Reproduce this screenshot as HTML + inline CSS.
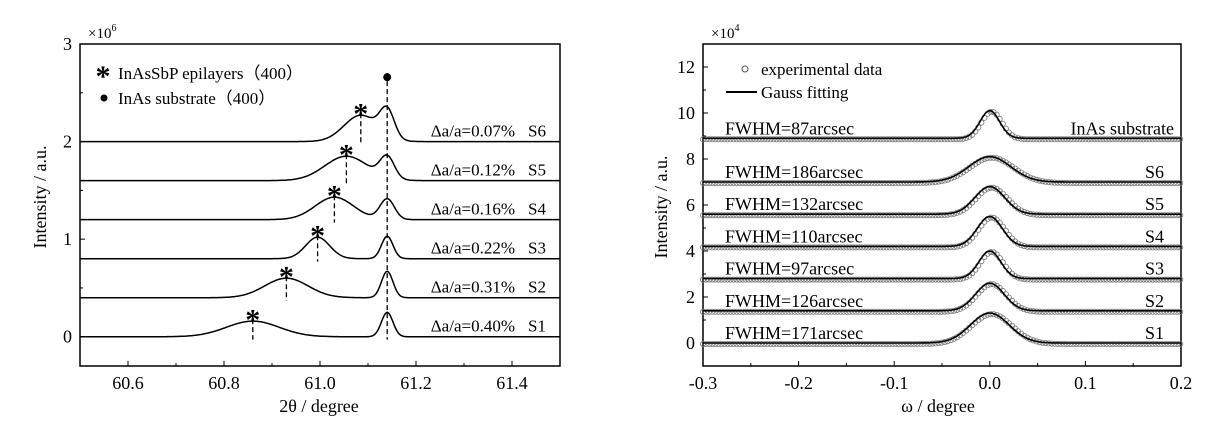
<!DOCTYPE html>
<html><head><meta charset="utf-8"><style>
body{margin:0;background:#fff}
svg text{font-family:"Liberation Serif",serif;fill:#000}
</style></head><body>
<svg id="svg" width="1213" height="427" xmlns="http://www.w3.org/2000/svg">
<g id="left"></g>
<g id="right"></g>
</svg>
<script>
// ---- Left chart data ----
const leftSamples = ["S1","S2","S3","S4","S5","S6"];
const leftMismatch = ["Δa/a=0.40%","Δa/a=0.31%","Δa/a=0.22%","Δa/a=0.16%","Δa/a=0.12%","Δa/a=0.07%"];
const leftBaseline = [0,0.4,0.8,1.2,1.6,2.0];
const epiPos = [60.86,60.93,60.995,61.03,61.055,61.085];
const epiHeight = [0.16,0.2,0.22,0.23,0.25,0.27];
const epiSigma = [0.055,0.045,0.025,0.04,0.045,0.035];
const subPos = 61.14;
const subHeight = [0.25,0.27,0.23,0.21,0.22,0.28];
const subSigma = [0.012,0.012,0.012,0.015,0.015,0.015];
const leftXTicks = [60.6,60.8,61.0,61.2,61.4];
const leftXTickLabels = ["60.6","60.8","61.0","61.2","61.4"];
const leftYTicks = [0,1,2,3];

// ---- Right chart data ----
const rightSamples = ["S1","S2","S3","S4","S5","S6","InAs substrate"];
const fwhmLabels = ["FWHM=171arcsec","FWHM=126arcsec","FWHM=97arcsec","FWHM=110arcsec","FWHM=132arcsec","FWHM=186arcsec","FWHM=87arcsec"];
const fwhmArcsec = [171,126,97,110,132,186,87];
const rightBaseline = [0,1.4,2.8,4.2,5.6,7.0,8.9];
const rightPeak = [1.3,1.2,1.2,1.3,1.2,1.1,1.2];
const rightXTicks = [-0.3,-0.2,-0.1,0.0,0.1,0.2];
const rightXTickLabels = ["-0.3","-0.2","-0.1","0.0","0.1","0.2"];
const rightYTicks = [0,2,4,6,8,10,12];

const NS="http://www.w3.org/2000/svg";
function mk(parent,tag,attrs,text){const e=document.createElementNS(NS,tag);for(const k in attrs)e.setAttribute(k,attrs[k]);if(text!==undefined)e.textContent=text;parent.appendChild(e);return e;}
const gauss=(x,c,h,s)=>h*Math.exp(-0.5*((x-c)/s)**2);

// ===== LEFT =====
(function(){
const g=document.getElementById('left');
const L=80,R=560,T=44,B=366;
const x0=60.5,x1=61.5,y0=-0.3,y1=3;
const X=v=>L+(v-x0)/(x1-x0)*(R-L);
const Y=v=>B-(v-y0)/(y1-y0)*(B-T);
const frame=mk(g,'rect',{x:L,y:T,width:R-L,height:B-T,fill:'none',stroke:'#000','stroke-width':1.5});

for(let v=60.5;v<=61.5001;v+=0.1){const maj=leftXTicks.some(t=>Math.abs(t-v)<1e-6);
 const t=mk(g,'line',{x1:X(v),x2:X(v),y1:B,y2:B-(maj?5:3),stroke:'#000','stroke-width':1});
 }
leftXTicks.forEach((v,i)=>{const t=mk(g,'text',{x:X(v),y:B+23,'text-anchor':'middle','font-size':18},leftXTickLabels[i]);
 });
for(let v=0;v<=3.0001;v+=0.5){const maj=Math.abs(v-Math.round(v))<1e-6;
 const t=mk(g,'line',{x1:L,x2:L+(maj?5:3),y1:Y(v),y2:Y(v),stroke:'#000','stroke-width':1});
 }
leftYTicks.forEach(v=>{const t=mk(g,'text',{x:L-8,y:Y(v)+6,'text-anchor':'end','font-size':18},String(v));
 });
let t=mk(g,'text',{x:88,y:38,'font-size':15},'×10');mk(t,'tspan',{dy:-7,'font-size':10},'6');

t=mk(g,'text',{x:46,y:197,'text-anchor':'middle','font-size':18,transform:'rotate(-90 46 197)'},'Intensity / a.u.');

t=mk(g,'text',{x:319,y:412,'text-anchor':'middle','font-size':18},'2θ / degree');

// substrate dashed line
const sd=mk(g,'line',{x1:X(subPos),x2:X(subPos),y1:Y(2.62),y2:Y(-0.03),stroke:'#000','stroke-width':1.3,'stroke-dasharray':'5,3'});

const dot=mk(g,'circle',{cx:X(subPos),cy:Y(2.66),r:4,fill:'#000'});

leftSamples.forEach((s,i)=>{
 let d='';
 for(let x=60.5;x<=61.5001;x+=0.002){
  const y=leftBaseline[i]+gauss(x,epiPos[i],epiHeight[i],epiSigma[i])+gauss(x,subPos,subHeight[i],subSigma[i]);
  d+=(d?'L':'M')+X(x).toFixed(1)+','+Y(y).toFixed(1);}
 const p=mk(g,'path',{d:d,fill:'none',stroke:'#000','stroke-width':1.5});
 
 const pk=leftBaseline[i]+epiHeight[i];
 const dl=mk(g,'line',{x1:X(epiPos[i]),x2:X(epiPos[i]),y1:Y(pk+0.02),y2:Y(leftBaseline[i]-0.03),stroke:'#000','stroke-width':1.3,'stroke-dasharray':'5,3'});
 
 const st=mk(g,'text',{x:X(epiPos[i]),y:Y(pk+0.06)+14,'text-anchor':'middle','font-size':30,'font-weight':'bold'},'*');
 
 const lb=mk(g,'text',{x:515,y:Y(leftBaseline[i])-5,'text-anchor':'end','font-size':17},leftMismatch[i]);
 
 const sl=mk(g,'text',{x:546,y:Y(leftBaseline[i])-5,'text-anchor':'end','font-size':17},s);
 
});
// legend
const lg=mk(g,'g',{});
t=mk(lg,'text',{x:103,y:86,'text-anchor':'middle','font-size':30,'font-weight':'bold'},'*');

t=mk(lg,'text',{x:118,y:79,'font-size':17},'InAsSbP epilayers（400）');

t=mk(lg,'circle',{cx:104,cy:98,r:3.5,fill:'#000'});

t=mk(lg,'text',{x:118,y:104,'font-size':17},'InAs substrate（400）');

})();

// ===== RIGHT =====
(function(){
const g=document.getElementById('right');
const L=703,R=1181,T=44,B=366;
const x0=-0.3,x1=0.2,y0=-1,y1=13;
const X=v=>L+(v-x0)/(x1-x0)*(R-L);
const Y=v=>B-(v-y0)/(y1-y0)*(B-T);
const frame=mk(g,'rect',{x:L,y:T,width:R-L,height:B-T,fill:'none',stroke:'#000','stroke-width':1.5});

for(let k=0;k<=10;k++){const v=-0.3+k*0.05;const maj=k%2===0;
 const t=mk(g,'line',{x1:X(v),x2:X(v),y1:B,y2:B-(maj?5:3),stroke:'#000','stroke-width':1});
 }
rightXTicks.forEach((v,i)=>{const t=mk(g,'text',{x:X(v),y:B+23,'text-anchor':'middle','font-size':18},rightXTickLabels[i]);
 });
for(let v=-1;v<=13;v++){const maj=v%2===0;
 const t=mk(g,'line',{x1:L,x2:L+(maj?5:3),y1:Y(v),y2:Y(v),stroke:'#000','stroke-width':1});
 }
rightYTicks.forEach(v=>{const t=mk(g,'text',{x:L-8,y:Y(v)+6,'text-anchor':'end','font-size':18},String(v));
 });
let t=mk(g,'text',{x:711,y:38,'font-size':15},'×10');mk(t,'tspan',{dy:-7,'font-size':10},'4');

t=mk(g,'text',{x:667,y:207,'text-anchor':'middle','font-size':18,transform:'rotate(-90 667 207)'},'Intensity / a.u.');

t=mk(g,'text',{x:938,y:412,'text-anchor':'middle','font-size':18},'ω / degree');

rightSamples.forEach((s,i)=>{
 const sig=fwhmArcsec[i]/3600/2.3548;
 const key=s.toLowerCase().replace(/\s+/g,'-');
 const dg=mk(g,'g',{});
 for(let x=-0.3;x<=0.2001;x+=0.0032){
  const y=rightBaseline[i]+gauss(x,0.002,rightPeak[i],sig*1.05);
  const c=mk(dg,'circle',{cx:X(x).toFixed(1),cy:(Y(y)+1).toFixed(1),r:2.6,fill:'none',stroke:'#777','stroke-width':0.8});
  }
 let d='';
 for(let x=-0.3;x<=0.2001;x+=0.001){
  const y=rightBaseline[i]+gauss(x,0,rightPeak[i],sig);
  d+=(d?'L':'M')+X(x).toFixed(1)+','+Y(y).toFixed(1);}
 const p=mk(g,'path',{d:d,fill:'none',stroke:'#000','stroke-width':1.6});
 
 const lb=mk(g,'text',{x:725,y:Y(rightBaseline[i])-4,'font-size':18},fwhmLabels[i]);
 
 const sl=mk(g,'text',{x:i===6?1174:1164,y:Y(rightBaseline[i])-4,'text-anchor':'end','font-size':18},s);
 
});
const lg=mk(g,'g',{});
t=mk(lg,'circle',{cx:745,cy:69,r:3,fill:'none',stroke:'#555','stroke-width':1});

t=mk(lg,'text',{x:761,y:75,'font-size':17},'experimental data');

t=mk(lg,'line',{x1:726,x2:757,y1:92,y2:92,stroke:'#000','stroke-width':2});

t=mk(lg,'text',{x:761,y:98,'font-size':17},'Gauss fitting');

})();
</script>
</body></html>
